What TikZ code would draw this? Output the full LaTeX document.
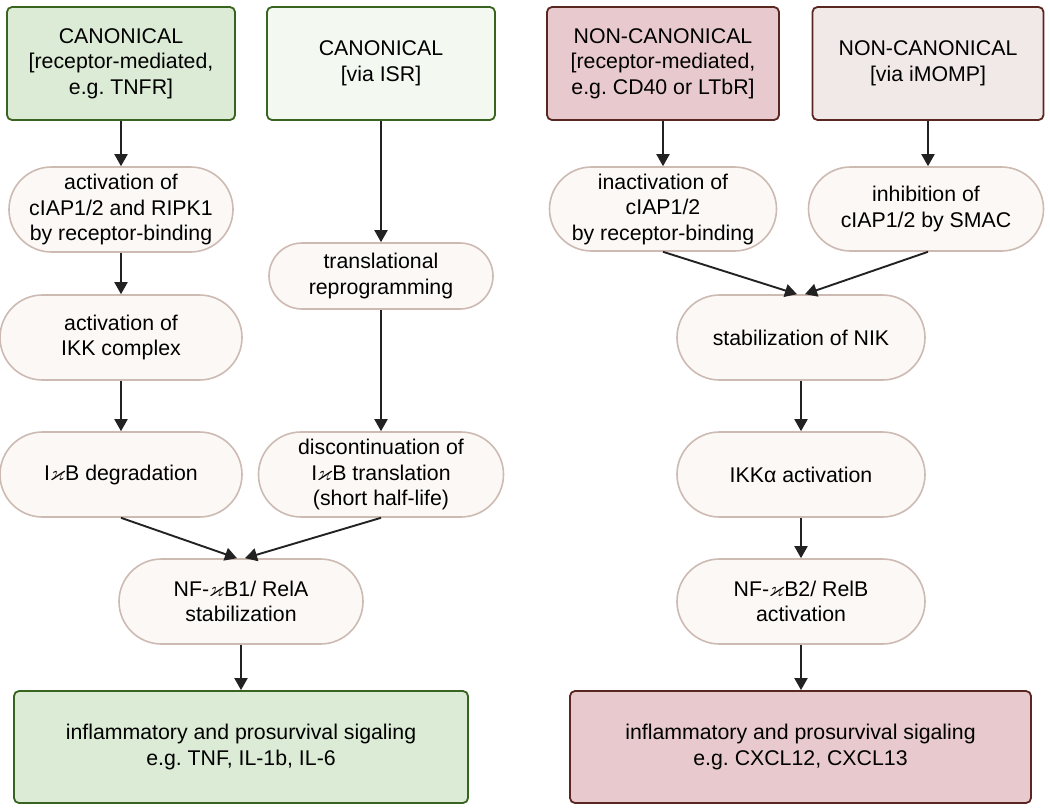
\documentclass[tikz,border=0pt]{standalone}
\usepackage{amssymb}
\usepackage{fontspec}
\setmainfont{Liberation Sans}
\frenchspacing
\usetikzlibrary{arrows.meta,calc,shapes.misc}
\definecolor{gfill}{HTML}{DCEBD5}
\definecolor{gline}{HTML}{38641F}
\definecolor{lgfill}{HTML}{F3F8F0}
\definecolor{pfill}{HTML}{E8CACE}
\definecolor{pline}{HTML}{5A2622}
\definecolor{lpfill}{HTML}{F1E8E8}
\definecolor{sfill}{HTML}{FCF8F5}
\definecolor{sline}{HTML}{CDBAB3}
\definecolor{arr}{HTML}{222222}
\tikzset{
  txt/.style={font=\fontsize{21.3}{25.5}\selectfont, align=center, text=black, inner sep=0pt},
  gbox/.style={txt, draw=gline, fill=gfill, line width=1.8pt, rounded corners=5pt},
  lgbox/.style={txt, draw=gline, fill=lgfill, line width=1.8pt, rounded corners=5pt},
  pbox/.style={txt, draw=pline, fill=pfill, line width=1.8pt, rounded corners=5pt},
  lpbox/.style={txt, draw=pline, fill=lpfill, line width=1.8pt, rounded corners=5pt},
  stepbox/.style={txt, rounded rectangle, rounded rectangle arc length=180, draw=sline, fill=sfill, line width=1.6pt},
  flow/.style={draw=arr, line width=1.9pt, -{Triangle[length=12pt,width=13pt]}},
}
\begin{document}
\begin{tikzpicture}[x=1pt,y=-1pt]
\useasboundingbox (0,0) rectangle (1050,809);
% top boxes
\node[gbox, minimum width=228pt, minimum height=113pt] (b1) at (121,63.5) {CANONICAL\\{[}receptor-mediated,\\e.g. TNFR]};
\node[lgbox, minimum width=228pt, minimum height=113pt] (b2) at (381,63.5) {CANONICAL\\{[}via ISR]};
\node[pbox, minimum width=232pt, minimum height=113pt] (b3) at (663,63.5) {NON-CANONICAL\\{[}receptor-mediated,\\e.g. CD40 or LTbR]};
\node[lpbox, minimum width=231pt, minimum height=113pt] (b4) at (928,63.5) {NON-CANONICAL\\{[}via iMOMP]};
% canonical steps
\node[stepbox, minimum width=224pt, minimum height=85pt] (a) at (121,209.5) {activation of\\cIAP1/2 and RIPK1\\by receptor-binding};
\node[stepbox, minimum width=242pt, minimum height=85pt] (b) at (121,337.5) {activation of\\IKK complex};
\node[stepbox, minimum width=242pt, minimum height=85pt] (c) at (121,474.5) {I$\varkappa$B degradation};
\node[stepbox, minimum width=224pt, minimum height=66pt] (d) at (381,276) {translational\\reprogramming};
\node[stepbox, minimum width=245pt, minimum height=85pt] (e) at (381,474.5) {discontinuation of\\I$\varkappa$B translation\\(short half-life)};
\node[stepbox, minimum width=244pt, minimum height=85pt] (f) at (241,601.5) {NF-$\varkappa$B1/ RelA\\stabilization};
\node[gbox, minimum width=454pt, minimum height=112pt] (g) at (241,747) {inflammatory and prosurvival sigaling\\e.g. TNF, IL-1b, IL-6};
% non-canonical steps
\node[stepbox, minimum width=227pt, minimum height=84pt] (h) at (663,209) {inactivation of\\cIAP1/2\\by receptor-binding};
\node[stepbox, minimum width=235pt, minimum height=84pt] (i) at (926,209) {inhibition of\\cIAP1/2 by SMAC};
\node[stepbox, minimum width=248pt, minimum height=85pt] (j) at (801,337.5) {stabilization of NIK};
\node[stepbox, minimum width=248pt, minimum height=85pt] (k) at (801,474.5) {IKKα activation};
\node[stepbox, minimum width=248pt, minimum height=85pt] (l) at (801,601.5) {NF-$\varkappa$B2/ RelB\\activation};
\node[pbox, minimum width=461pt, minimum height=112pt] (m) at (800.5,747) {inflammatory and prosurvival sigaling\\e.g. CXCL12, CXCL13};
% arrows
\draw[flow] (b1.south) -- (b1.south |- a.north);
\draw[flow] (a.south) -- (a.south |- b.north);
\draw[flow] (b.south) -- (b.south |- c.north);
\draw[flow] (b2.south) -- (b2.south |- d.north);
\draw[flow] (d.south) -- (d.south |- e.north);
\draw[flow] (c.south) -- ($(f.north)+(-4,0)$);
\draw[flow] (e.south) -- ($(f.north)+(4,0)$);
\draw[flow] (f.south) -- (f.south |- g.north);
\draw[flow] (b3.south) -- (b3.south |- h.north);
\draw[flow] (b4.south) -- (b4.south |- i.north);
\draw[flow] (h.south) -- ($(j.north)+(-4,0)$);
\draw[flow] ($(i.south)+(2,0)$) -- ($(j.north)+(4,0)$);
\draw[flow] (j.south) -- (j.south |- k.north);
\draw[flow] (k.south) -- (k.south |- l.north);
\draw[flow] (l.south) -- (l.south |- m.north);
\end{tikzpicture}
\end{document}
